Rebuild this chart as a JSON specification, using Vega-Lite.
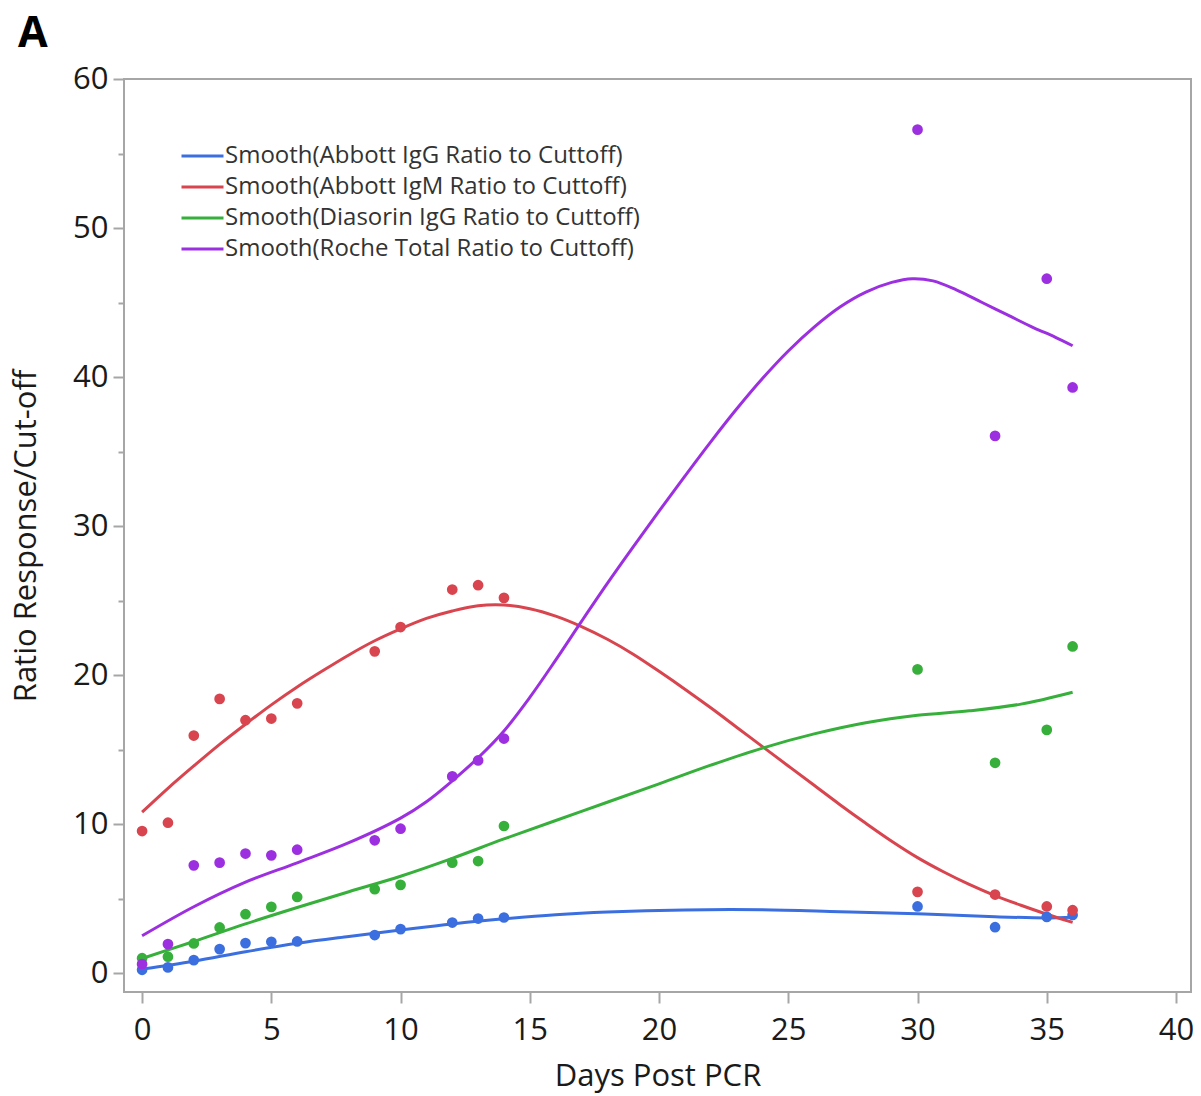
{
  "$schema": "https://vega.github.io/schema/vega-lite/v6.json",
  "autosize": {"type": "none"},
  "width": 1067,
  "height": 913,
  "padding": {"left": 124, "top": 79, "right": 10, "bottom": 104},
  "background": "white",
  "title": {"text": "A", "anchor": "start", "frame": "group", "dx": -106, "offset": 7, "fontSize": 43, "fontWeight": "bold", "font": "Open Sans", "color": "#000000"},
  "config": {
    "view": {"stroke": "#a6a6a6", "strokeWidth": 2},
    "font": "Open Sans",
    "axis": {"grid": false, "domain": false, "tickColor": "#a6a6a6", "tickWidth": 2, "labelColor": "#1a1a1a", "titleColor": "#1a1a1a", "labelFont": "Open Sans", "titleFont": "Open Sans", "labelFontSize": 31, "titleFontSize": 31, "titleFontWeight": "normal"}
  },
  "datasets": {
    "points": [
      {"day": 0, "series": "Abbott IgG", "value": 0.22},
      {"day": 1, "series": "Abbott IgG", "value": 0.38},
      {"day": 2, "series": "Abbott IgG", "value": 0.87},
      {"day": 3, "series": "Abbott IgG", "value": 1.61},
      {"day": 4, "series": "Abbott IgG", "value": 2.01},
      {"day": 5, "series": "Abbott IgG", "value": 2.1},
      {"day": 6, "series": "Abbott IgG", "value": 2.12},
      {"day": 9, "series": "Abbott IgG", "value": 2.55},
      {"day": 10, "series": "Abbott IgG", "value": 2.95},
      {"day": 12, "series": "Abbott IgG", "value": 3.39},
      {"day": 13, "series": "Abbott IgG", "value": 3.66},
      {"day": 14, "series": "Abbott IgG", "value": 3.73},
      {"day": 30, "series": "Abbott IgG", "value": 4.47},
      {"day": 33, "series": "Abbott IgG", "value": 3.08},
      {"day": 35, "series": "Abbott IgG", "value": 3.77},
      {"day": 36, "series": "Abbott IgG", "value": 3.9},
      {"day": 0, "series": "Abbott IgM", "value": 9.53},
      {"day": 1, "series": "Abbott IgM", "value": 10.09},
      {"day": 2, "series": "Abbott IgM", "value": 15.94},
      {"day": 3, "series": "Abbott IgM", "value": 18.4},
      {"day": 4, "series": "Abbott IgM", "value": 16.97},
      {"day": 5, "series": "Abbott IgM", "value": 17.08},
      {"day": 6, "series": "Abbott IgM", "value": 18.1},
      {"day": 9, "series": "Abbott IgM", "value": 21.59},
      {"day": 10, "series": "Abbott IgM", "value": 23.22},
      {"day": 12, "series": "Abbott IgM", "value": 25.74},
      {"day": 13, "series": "Abbott IgM", "value": 26.03},
      {"day": 14, "series": "Abbott IgM", "value": 25.18},
      {"day": 30, "series": "Abbott IgM", "value": 5.45},
      {"day": 33, "series": "Abbott IgM", "value": 5.27},
      {"day": 35, "series": "Abbott IgM", "value": 4.47},
      {"day": 36, "series": "Abbott IgM", "value": 4.22},
      {"day": 0, "series": "Diasorin IgG", "value": 1.0},
      {"day": 1, "series": "Diasorin IgG", "value": 1.1},
      {"day": 2, "series": "Diasorin IgG", "value": 1.99},
      {"day": 3, "series": "Diasorin IgG", "value": 3.06},
      {"day": 4, "series": "Diasorin IgG", "value": 3.95},
      {"day": 5, "series": "Diasorin IgG", "value": 4.44},
      {"day": 6, "series": "Diasorin IgG", "value": 5.11},
      {"day": 9, "series": "Diasorin IgG", "value": 5.63},
      {"day": 10, "series": "Diasorin IgG", "value": 5.92},
      {"day": 12, "series": "Diasorin IgG", "value": 7.41},
      {"day": 13, "series": "Diasorin IgG", "value": 7.52},
      {"day": 14, "series": "Diasorin IgG", "value": 9.87},
      {"day": 30, "series": "Diasorin IgG", "value": 20.38},
      {"day": 33, "series": "Diasorin IgG", "value": 14.11},
      {"day": 35, "series": "Diasorin IgG", "value": 16.32},
      {"day": 36, "series": "Diasorin IgG", "value": 21.92},
      {"day": 0, "series": "Roche Total", "value": 0.6},
      {"day": 1, "series": "Roche Total", "value": 1.94},
      {"day": 2, "series": "Roche Total", "value": 7.23},
      {"day": 3, "series": "Roche Total", "value": 7.41},
      {"day": 4, "series": "Roche Total", "value": 8.02},
      {"day": 5, "series": "Roche Total", "value": 7.9},
      {"day": 6, "series": "Roche Total", "value": 8.28},
      {"day": 9, "series": "Roche Total", "value": 8.91},
      {"day": 10, "series": "Roche Total", "value": 9.69},
      {"day": 12, "series": "Roche Total", "value": 13.2},
      {"day": 13, "series": "Roche Total", "value": 14.27},
      {"day": 14, "series": "Roche Total", "value": 15.74},
      {"day": 30, "series": "Roche Total", "value": 56.6},
      {"day": 33, "series": "Roche Total", "value": 36.05},
      {"day": 35, "series": "Roche Total", "value": 46.6},
      {"day": 36, "series": "Roche Total", "value": 39.3}
    ],
    "curves": [
      {"day": 0, "series": "Abbott IgG", "value": 0.27},
      {"day": 2, "series": "Abbott IgG", "value": 0.8},
      {"day": 4, "series": "Abbott IgG", "value": 1.43},
      {"day": 6, "series": "Abbott IgG", "value": 2.0},
      {"day": 8, "series": "Abbott IgG", "value": 2.46},
      {"day": 10, "series": "Abbott IgG", "value": 2.89},
      {"day": 12, "series": "Abbott IgG", "value": 3.3},
      {"day": 14, "series": "Abbott IgG", "value": 3.64},
      {"day": 16, "series": "Abbott IgG", "value": 3.92},
      {"day": 18, "series": "Abbott IgG", "value": 4.1},
      {"day": 21, "series": "Abbott IgG", "value": 4.24},
      {"day": 24, "series": "Abbott IgG", "value": 4.25},
      {"day": 27, "series": "Abbott IgG", "value": 4.12},
      {"day": 30, "series": "Abbott IgG", "value": 3.98},
      {"day": 33, "series": "Abbott IgG", "value": 3.78},
      {"day": 35, "series": "Abbott IgG", "value": 3.7},
      {"day": 36, "series": "Abbott IgG", "value": 3.74},
      {"day": 0, "series": "Abbott IgM", "value": 10.8},
      {"day": 1, "series": "Abbott IgM", "value": 12.4},
      {"day": 2, "series": "Abbott IgM", "value": 13.9},
      {"day": 3, "series": "Abbott IgM", "value": 15.35},
      {"day": 4, "series": "Abbott IgM", "value": 16.7},
      {"day": 5, "series": "Abbott IgM", "value": 18.0},
      {"day": 6, "series": "Abbott IgM", "value": 19.2},
      {"day": 7, "series": "Abbott IgM", "value": 20.3},
      {"day": 8, "series": "Abbott IgM", "value": 21.35},
      {"day": 9, "series": "Abbott IgM", "value": 22.3},
      {"day": 10, "series": "Abbott IgM", "value": 23.1},
      {"day": 11, "series": "Abbott IgM", "value": 23.8},
      {"day": 12, "series": "Abbott IgM", "value": 24.3},
      {"day": 13, "series": "Abbott IgM", "value": 24.65},
      {"day": 14, "series": "Abbott IgM", "value": 24.7},
      {"day": 15, "series": "Abbott IgM", "value": 24.45},
      {"day": 16, "series": "Abbott IgM", "value": 23.95},
      {"day": 17, "series": "Abbott IgM", "value": 23.25},
      {"day": 18, "series": "Abbott IgM", "value": 22.4},
      {"day": 19, "series": "Abbott IgM", "value": 21.4},
      {"day": 20, "series": "Abbott IgM", "value": 20.25},
      {"day": 21, "series": "Abbott IgM", "value": 19.05},
      {"day": 22, "series": "Abbott IgM", "value": 17.8},
      {"day": 23, "series": "Abbott IgM", "value": 16.5},
      {"day": 24, "series": "Abbott IgM", "value": 15.2},
      {"day": 25, "series": "Abbott IgM", "value": 13.9},
      {"day": 26, "series": "Abbott IgM", "value": 12.6},
      {"day": 27, "series": "Abbott IgM", "value": 11.3},
      {"day": 28, "series": "Abbott IgM", "value": 10.05},
      {"day": 29, "series": "Abbott IgM", "value": 8.85},
      {"day": 30, "series": "Abbott IgM", "value": 7.75},
      {"day": 31, "series": "Abbott IgM", "value": 6.8},
      {"day": 32, "series": "Abbott IgM", "value": 5.95},
      {"day": 33, "series": "Abbott IgM", "value": 5.2},
      {"day": 34, "series": "Abbott IgM", "value": 4.55},
      {"day": 35, "series": "Abbott IgM", "value": 3.95},
      {"day": 36, "series": "Abbott IgM", "value": 3.4},
      {"day": 0, "series": "Diasorin IgG", "value": 0.98},
      {"day": 2, "series": "Diasorin IgG", "value": 2.12},
      {"day": 4, "series": "Diasorin IgG", "value": 3.3},
      {"day": 6, "series": "Diasorin IgG", "value": 4.4},
      {"day": 8, "series": "Diasorin IgG", "value": 5.46},
      {"day": 10, "series": "Diasorin IgG", "value": 6.5},
      {"day": 12, "series": "Diasorin IgG", "value": 7.7},
      {"day": 14, "series": "Diasorin IgG", "value": 9.0},
      {"day": 17, "series": "Diasorin IgG", "value": 10.85},
      {"day": 20, "series": "Diasorin IgG", "value": 12.7},
      {"day": 22, "series": "Diasorin IgG", "value": 13.95},
      {"day": 24, "series": "Diasorin IgG", "value": 15.1},
      {"day": 26, "series": "Diasorin IgG", "value": 16.05},
      {"day": 28, "series": "Diasorin IgG", "value": 16.8},
      {"day": 30, "series": "Diasorin IgG", "value": 17.3},
      {"day": 32, "series": "Diasorin IgG", "value": 17.6},
      {"day": 34, "series": "Diasorin IgG", "value": 18.05},
      {"day": 36, "series": "Diasorin IgG", "value": 18.85},
      {"day": 0, "series": "Roche Total", "value": 2.5},
      {"day": 2, "series": "Roche Total", "value": 4.45},
      {"day": 4, "series": "Roche Total", "value": 6.1},
      {"day": 6, "series": "Roche Total", "value": 7.4},
      {"day": 8, "series": "Roche Total", "value": 8.75},
      {"day": 10, "series": "Roche Total", "value": 10.4},
      {"day": 11, "series": "Roche Total", "value": 11.5},
      {"day": 12, "series": "Roche Total", "value": 12.9},
      {"day": 13, "series": "Roche Total", "value": 14.45},
      {"day": 14, "series": "Roche Total", "value": 16.25},
      {"day": 15, "series": "Roche Total", "value": 18.5},
      {"day": 16, "series": "Roche Total", "value": 21.0},
      {"day": 17, "series": "Roche Total", "value": 23.6},
      {"day": 18, "series": "Roche Total", "value": 26.15},
      {"day": 19, "series": "Roche Total", "value": 28.6},
      {"day": 20, "series": "Roche Total", "value": 31.0},
      {"day": 21, "series": "Roche Total", "value": 33.35},
      {"day": 22, "series": "Roche Total", "value": 35.65},
      {"day": 23, "series": "Roche Total", "value": 37.85},
      {"day": 24, "series": "Roche Total", "value": 39.9},
      {"day": 25, "series": "Roche Total", "value": 41.75},
      {"day": 26, "series": "Roche Total", "value": 43.35},
      {"day": 27, "series": "Roche Total", "value": 44.7},
      {"day": 28, "series": "Roche Total", "value": 45.7},
      {"day": 29, "series": "Roche Total", "value": 46.35},
      {"day": 29.8, "series": "Roche Total", "value": 46.6},
      {"day": 30.6, "series": "Roche Total", "value": 46.45},
      {"day": 31.5, "series": "Roche Total", "value": 45.85},
      {"day": 32.5, "series": "Roche Total", "value": 45.0},
      {"day": 33.5, "series": "Roche Total", "value": 44.15},
      {"day": 34.5, "series": "Roche Total", "value": 43.3},
      {"day": 35.3, "series": "Roche Total", "value": 42.7},
      {"day": 36, "series": "Roche Total", "value": 42.1}
    ]
  },
  "layer": [
    {
      "layer": [
        {
          "mark": {"type": "rule", "color": "#1e1e1e", "strokeWidth": 3},
          "encoding": {
            "y": {"datum": 1, "type": "quantitative"},
            "x": {"datum": -1.1, "type": "quantitative"},
            "x2": {"datum": 40.58}
          }
        },
        {
          "data": {"name": "curves"},
          "mark": {"type": "line", "strokeWidth": 3, "interpolate": "catmull-rom"},
          "encoding": {
            "x": {"field": "day", "type": "quantitative", "scale": {"domain": [-0.7, 40.58], "nice": false, "zero": false}, "axis": {"title": "Days Post PCR", "values": [0, 5, 10, 15, 20, 25, 30, 35, 40], "tickSize": 11, "labelPadding": 12, "titlePadding": 16}},
            "y": {"field": "value", "type": "quantitative", "scale": {"domain": [-1.27, 60], "nice": false, "zero": false}, "axis": {"title": "Ratio Response/Cut-off", "values": [0, 10, 20, 30, 40, 50, 60], "tickSize": 11, "labelPadding": 5, "titlePadding": 30}},
            "color": {"field": "series", "type": "nominal", "scale": {"domain": ["Abbott IgG", "Abbott IgM", "Diasorin IgG", "Roche Total"], "range": ["#3b6fe0", "#d8454f", "#36b03a", "#9c30e0"]},
              "legend": {"title": null, "orient": "none", "legendX": 66.5, "legendY": 65, "symbolType": "M-2,0H2", "symbolSize": 441, "symbolStrokeWidth": 3, "labelFontSize": 24, "labelColor": "#333333", "labelFont": "Open Sans", "labelOffset": 10.5, "labelLimit": 0, "rowPadding": 7,
                "labelExpr": "'Smooth(' + datum.label + ' Ratio to Cuttoff)'"}}
          }
        },
        {
          "data": {"name": "points"},
          "mark": {"type": "circle", "size": 115, "opacity": 1},
          "encoding": {
            "x": {"field": "day", "type": "quantitative"},
            "y": {"field": "value", "type": "quantitative"},
            "color": {"field": "series", "type": "nominal"}
          }
        }
      ]
    },
    {
      "data": {"values": [{"v": 5}]},
      "mark": {"type": "point", "opacity": 0},
      "encoding": {
        "y": {"field": "v", "type": "quantitative", "axis": {"orient": "left", "values": [5, 15, 25, 35, 45, 55], "tickSize": 6, "labels": false, "title": null}}
      }
    }
  ],
  "resolve": {"axis": {"y": "independent"}}
}
